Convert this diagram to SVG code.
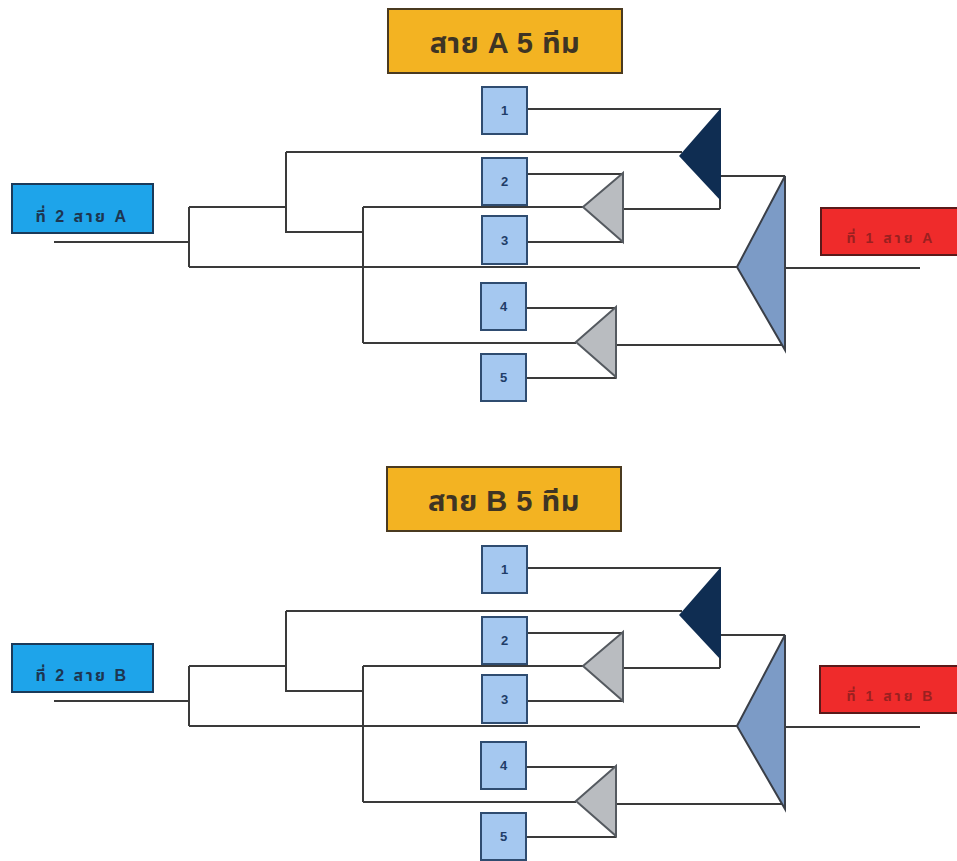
<svg xmlns="http://www.w3.org/2000/svg" width="957" height="861" viewBox="0 0 957 861">
<style>
.bg{fill:#ffffff}
.title rect{fill:#f3b322;stroke:#4a3a20;stroke-width:2}
.title text{font-family:"Liberation Sans","Noto Sans","Noto Sans Thai",sans-serif;font-size:29px;font-weight:bold;fill:#3e3424;text-anchor:middle;letter-spacing:0.5px}
.seed2 rect{fill:#1ea4ea;stroke:#1a3a5a;stroke-width:2}
.seed2 text{font-family:"Liberation Sans","Noto Sans","Noto Sans Thai",sans-serif;font-size:16px;font-weight:bold;fill:#1d3550;text-anchor:middle;letter-spacing:2.5px}
.seed1 rect{fill:#ef2b2b;stroke:#5a1a1a;stroke-width:2}
.seed1 text{font-family:"Liberation Sans","Noto Sans","Noto Sans Thai",sans-serif;font-size:14px;font-weight:bold;fill:#9a2020;text-anchor:middle;letter-spacing:3px}
.team rect{fill:#a5c8f0;stroke:#2f4c70;stroke-width:2}
.team text{font-family:"Liberation Sans","Noto Sans",sans-serif;font-size:13px;font-weight:bold;fill:#1f3d68;text-anchor:middle}
.dark polygon{fill:#0f2d52;stroke:none}
.gray polygon{fill:#b9bcc0;stroke:#555a60;stroke-width:2}
.big polygon{fill:#7c9bc6;stroke:#3a3f48;stroke-width:2}
.conn path{fill:none;stroke:#3a3a3a;stroke-width:2}
</style>
<rect class="bg" x="0" y="0" width="957" height="861"/>

<g id="section-a">
  <g id="conn-a" class="conn">
    <path d="M527 109H720V209"/>
    <path d="M286 152H682"/>
    <path d="M54 242H189M189 207V267M189 207H286M286 152V232H363"/>
    <path d="M189 267H737"/>
    <path d="M785 268H920"/>
    <path d="M363 207V343"/>
    <path d="M363 207H583"/>
    <path d="M527 174H623M527 242H623"/>
    <path d="M623 209H720"/>
    <path d="M720 176H785"/>
    <path d="M526 308H616M526 378H616"/>
    <path d="M363 343H576"/>
    <path d="M616 345H785"/>
  </g>
  <g id="title-a" class="title"><rect x="388" y="9" width="234" height="64"/><text x="505" y="53">สาย A 5 ทีม</text></g>
  <g id="seed2-a" class="seed2"><rect x="12" y="184" width="141" height="49"/><text x="82" y="222">ที่ 2 สาย A</text></g>
  <g id="seed1-a" class="seed1"><rect x="821" y="208" width="140" height="47"/><text x="891" y="243">ที่ 1 สาย A</text></g>
  <g id="team-a1" class="team"><rect x="482" y="87" width="45" height="47"/><text x="504.5" y="115">1</text></g>
  <g id="team-a2" class="team"><rect x="482" y="158" width="45" height="47"/><text x="504.5" y="186">2</text></g>
  <g id="team-a3" class="team"><rect x="482" y="216" width="45" height="48"/><text x="504.5" y="245">3</text></g>
  <g id="team-a4" class="team"><rect x="481" y="283" width="45" height="47"/><text x="503.5" y="311">4</text></g>
  <g id="team-a5" class="team"><rect x="481" y="354" width="45" height="47"/><text x="503.5" y="382">5</text></g>
  <g id="match-a-dark" class="dark"><polygon points="721,108 679,156 721,201"/></g>
  <g id="match-a-23" class="gray"><polygon points="623,173 583,207 623,242"/></g>
  <g id="match-a-45" class="gray"><polygon points="616,307 576,342 616,377"/></g>
  <g id="match-a-final" class="big"><polygon points="785,176 737,267 785,350"/></g>
</g>

<g id="section-b" transform="translate(0,459)">
  <g id="conn-b" class="conn">
    <path d="M527 109H720V209"/>
    <path d="M286 152H682"/>
    <path d="M54 242H189M189 207V267M189 207H286M286 152V232H363"/>
    <path d="M189 267H737"/>
    <path d="M785 268H920"/>
    <path d="M363 207V343"/>
    <path d="M363 207H583"/>
    <path d="M527 174H623M527 242H623"/>
    <path d="M623 209H720"/>
    <path d="M720 176H785"/>
    <path d="M526 308H616M526 378H616"/>
    <path d="M363 343H576"/>
    <path d="M616 345H785"/>
  </g>
  <g id="title-b" class="title"><rect x="387" y="8" width="234" height="64"/><text x="504" y="52">สาย B 5 ทีม</text></g>
  <g id="seed2-b" class="seed2"><rect x="12" y="185" width="141" height="48"/><text x="82" y="222">ที่ 2 สาย B</text></g>
  <g id="seed1-b" class="seed1"><rect x="820" y="207" width="141" height="47"/><text x="891" y="242">ที่ 1 สาย B</text></g>
  <g id="team-b1" class="team"><rect x="482" y="87" width="45" height="47"/><text x="504.5" y="115">1</text></g>
  <g id="team-b2" class="team"><rect x="482" y="158" width="45" height="47"/><text x="504.5" y="186">2</text></g>
  <g id="team-b3" class="team"><rect x="482" y="216" width="45" height="48"/><text x="504.5" y="245">3</text></g>
  <g id="team-b4" class="team"><rect x="481" y="283" width="45" height="47"/><text x="503.5" y="311">4</text></g>
  <g id="team-b5" class="team"><rect x="481" y="354" width="45" height="47"/><text x="503.5" y="382">5</text></g>
  <g id="match-b-dark" class="dark"><polygon points="721,108 679,156 721,201"/></g>
  <g id="match-b-23" class="gray"><polygon points="623,173 583,207 623,242"/></g>
  <g id="match-b-45" class="gray"><polygon points="616,307 576,342 616,377"/></g>
  <g id="match-b-final" class="big"><polygon points="785,176 737,267 785,350"/></g>
</g>
</svg>
